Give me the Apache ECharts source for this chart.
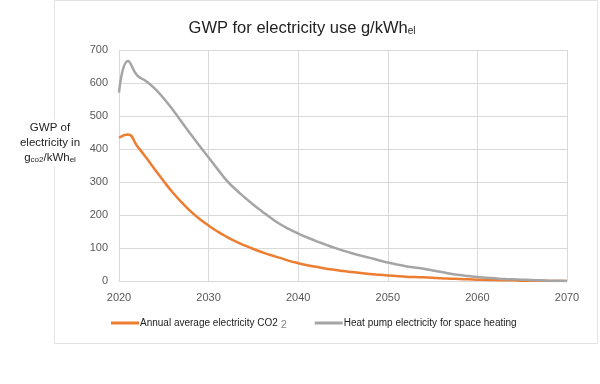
<!DOCTYPE html>
<html><head><meta charset="utf-8">
<script src="https://cdn.jsdelivr.net/npm/echarts@6/dist/echarts.min.js"></script>
<style>html,body{margin:0;padding:0;background:#fff}#c{width:600px;height:384px}</style>
</head><body><div id="c"></div>
<script>
var years = [];
for (var y = 2020; y <= 2070; y++) years.push(y);
var annualAvg = [434,444,410,375,338,302,268,238,211,188,168,150,134,120,108,97,87,78,70,61,54,48,43,38,34,30,27,24,21,19,17,15,13,12,11,10,8,7,6,5,4,3,3,2,2,1,1,1,0,0,0];
var heatPump = [571,667,624,606,583,553,519,482,445,409,374,339,305,278,254,231,210,190,172,157,144,132,121,111,101,92,84,77,70,63,56,50,45,41,37,32,27,22,18,15,12,10,8,6,5,4,3,2,1,1,0];
var xTicks = [2020,2030,2040,2050,2060,2070];

var chart = echarts.init(document.getElementById('c'));
var font = 'Liberation Sans, Arial, sans-serif';
chart.setOption({
  animation: false,
  textStyle: {fontFamily: font},
  title: {
    text: 'GWP for electricity use g/kWh{s|el}',
    left: 297, top: 15, textAlign: 'center',
    textStyle: {fontFamily: font, fontSize: 16.5, fontWeight: 'normal', color: '#222',
      rich: {s: {fontSize: 10, fontFamily: font, color: '#222', padding: [6,0,0,0]}}}
  },
  grid: {left: 119, right: 33, top: 50, bottom: 103},
  xAxis: {
    type: 'value', min: xTicks[0], max: xTicks[xTicks.length - 1], interval: 10,
    axisLine: {show: true, lineStyle: {color: '#d9d9d9', width: 1}},
    axisTick: {show: false},
    axisLabel: {color: '#595959', fontSize: 11, margin: 11, fontFamily: font, formatter: function (v) { return String(v); }},
    splitLine: {show: true, lineStyle: {color: '#d9d9d9', width: 1}}
  },
  yAxis: {
    type: 'value', min: 0, max: 700, interval: 100,
    axisLine: {show: false}, axisTick: {show: false},
    axisLabel: {color: '#595959', fontSize: 11, margin: 11, fontFamily: font},
    splitLine: {lineStyle: {color: '#d9d9d9', width: 1}}
  },
  legend: {
    left: 106, top: 313, itemWidth: 28, itemHeight: 3, itemGap: 28, icon: 'rect',
    textStyle: {fontSize: 10, color: '#222', fontFamily: font, padding: [0,0,0,-4],
      rich: {g: {fontSize: 11, color: '#888', fontFamily: font, padding: [3,0,0,0]}}},
    formatter: function (n) { return n === 'Annual average electricity CO2' ? n + ' {g|2}' : n; },
    data: ['Annual average electricity CO2', 'Heat pump electricity for space heating']
  },
  graphic: [
    {type: 'rect', shape: {x: 54.5, y: 0.5, width: 543, height: 343}, style: {fill: 'none', stroke: '#e3e3e3', lineWidth: 1}, z: -1},
    {type: 'text', x: 50, y: 119, z: 10,
      style: {text: 'GWP of\nelectricity in\n{n|g}{s|co2}{n|/kWh}{s|el}', fill: '#222', font: '11.5px ' + font, align: 'center', verticalAlign: 'top', lineHeight: 15,
        backgroundColor: '#fff', padding: [1,1,1,1],
        rich: {n: {fontSize: 11.5, fontFamily: font, fill: '#222', lineHeight: 15}, s: {fontSize: 8, fontFamily: font, fill: '#222', padding: [4,0,0,0], lineHeight: 15}}}}
  ],
  series: [
    {name: 'Annual average electricity CO2', type: 'line', smooth: 0.5, showSymbol: false,
      data: years.map(function (y, i) { return [y, annualAvg[i]]; }),
      lineStyle: {color: '#ED7D31', width: 2.5}, itemStyle: {color: '#ED7D31'}},
    {name: 'Heat pump electricity for space heating', type: 'line', smooth: 0.5, showSymbol: false,
      data: years.map(function (y, i) { return [y, heatPump[i]]; }),
      lineStyle: {color: '#A5A5A5', width: 2.5}, itemStyle: {color: '#A5A5A5'}}
  ]
});
</script></body></html>
